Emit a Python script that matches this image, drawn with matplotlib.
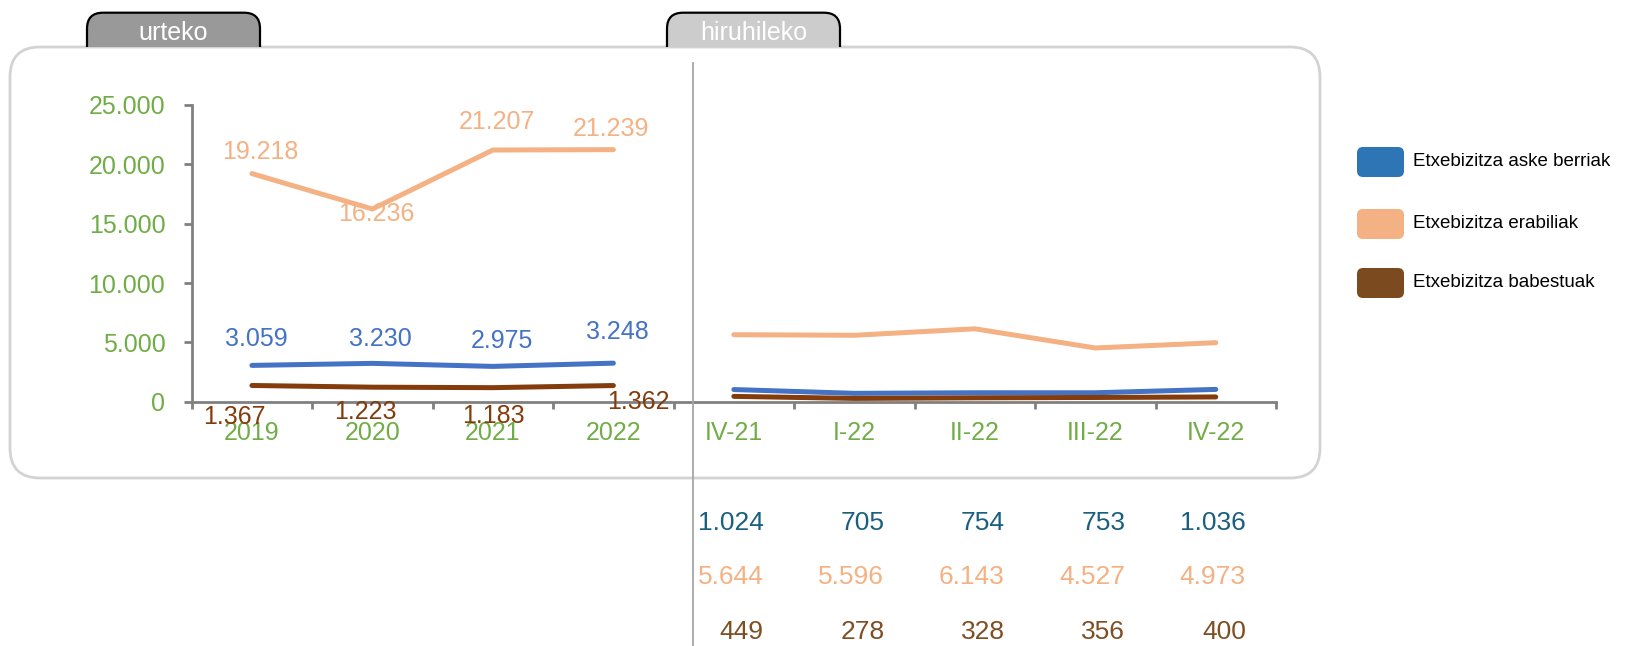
import matplotlib
matplotlib.use("Agg")
import matplotlib.pyplot as plt
from matplotlib.patches import FancyBboxPatch, Rectangle
from matplotlib.lines import Line2D
import matplotlib.transforms as mtransforms

plt.rcParams['font.family'] = ['Liberation Sans', 'DejaVu Sans']

# ---------------- data ----------------
annual_cats = ["2019", "2020", "2021", "2022"]
quarter_cats = ["IV-21", "I-22", "II-22", "III-22", "IV-22"]

series_names = ["Etxebizitza aske berriak", "Etxebizitza erabiliak", "Etxebizitza babestuak"]

annual_new = [3059, 3230, 2975, 3248]
annual_used = [19218, 16236, 21207, 21239]
annual_prot = [1367, 1223, 1183, 1362]

quarter_new = [1024, 705, 754, 753, 1036]
quarter_used = [5644, 5596, 6143, 4527, 4973]
quarter_prot = [449, 278, 328, 356, 400]

y_ticks = [0, 5000, 10000, 15000, 20000, 25000]

# ---------------- styles ----------------
W, H = 1639, 646
C_BLUE = '#4472C4'
C_ORANGE = '#F4B183'
C_BROWN = '#843C0C'
C_GREEN = '#70AD47'
C_AXIS = '#808080'
C_TBL_BLUE = '#1A5F7E'
C_TBL_BROWN = '#7F4F24'
LEG_COLORS = ['#2E75B6', '#F4B183', '#7B4A1E']

def fmt(v):
    return f"{v:,}".replace(",", ".")

fig = plt.figure(figsize=(W / 100, H / 100), dpi=100)
fig.patch.set_facecolor('white')

# pixel transform with origin at top-left
T = mtransforms.Affine2D().scale(1, -1).translate(0, H)

# axes position from pixel geometry
ax_l, ax_r, ax_top, ax_bot = 191.7, 1276.0, 105.0, 401.7
ax = fig.add_axes([ax_l / W, 1 - ax_bot / H, (ax_r - ax_l) / W, (ax_bot - ax_top) / H])
ax.set_facecolor('none')

n_cat = len(annual_cats) + len(quarter_cats)
xa = list(range(len(annual_cats)))
xq = list(range(len(annual_cats), n_cat))

lw = 3.6
for xs, ys, c in [(xa, annual_used, C_ORANGE), (xa, annual_new, C_BLUE), (xa, annual_prot, C_BROWN),
                  (xq, quarter_used, C_ORANGE), (xq, quarter_new, C_BLUE), (xq, quarter_prot, C_BROWN)]:
    ax.plot(xs, ys, color=c, lw=lw, solid_capstyle='round', solid_joinstyle='round', zorder=3)

ax.set_xlim(-0.5, n_cat - 0.5)
ax.set_ylim(0, 25000)

for s in ['top', 'right']:
    ax.spines[s].set_visible(False)
for s in ['left', 'bottom']:
    ax.spines[s].set_color(C_AXIS)
    ax.spines[s].set_linewidth(2)

ax.set_yticks(y_ticks)
ax.set_yticklabels([fmt(v) for v in y_ticks])
ax.tick_params(axis='y', colors=C_AXIS, labelcolor=C_GREEN, labelsize=18,
               length=6, width=2, direction='out', pad=13)

ax.set_xticks(range(n_cat))
ax.set_xticklabels(annual_cats + quarter_cats)
ax.tick_params(axis='x', which='major', length=0, labelcolor=C_GREEN, labelsize=18, pad=14)
ax.set_xticks([i - 0.5 for i in range(n_cat + 1)], minor=True)
ax.tick_params(axis='x', which='minor', length=5, width=2, color=C_AXIS, direction='out')

# data labels for annual section (offsets in pixels: dx right, dy up)
lab_new_off = [(4, 26), (8, 24), (9, 25), (4, 31)]
lab_used_off = [(8, 22), (4, -5), (4, 28), (-2, 21)]
lab_prot_off = [(-18, -32), (-7, -25), (1, -28), (25, -16)]
for vals, offs, c in [(annual_new, lab_new_off, C_BLUE), (annual_used, lab_used_off, C_ORANGE),
                      (annual_prot, lab_prot_off, C_BROWN)]:
    for i, (v, o) in enumerate(zip(vals, offs)):
        ax.annotate(fmt(v), xy=(i, v), xytext=o, textcoords='offset pixels',
                    ha='center', va='center', color=c, fontsize=18, zorder=4)

# table below quarterly section
bt = mtransforms.blended_transform_factory(ax.transData, T)
rows = [(quarter_new, C_TBL_BLUE, 522.7), (quarter_used, C_ORANGE, 576.5), (quarter_prot, C_TBL_BROWN, 632.0)]
for vals, c, yy in rows:
    for x, v in zip(xq, vals):
        ax.annotate(fmt(v), xy=(x, yy), xycoords=bt, xytext=(30, 0), textcoords='offset pixels',
                    ha='right', va='center', color=c, fontsize=19, annotation_clip=False)

# rounded frame
frame = FancyBboxPatch((10, 47), 1310, 431, boxstyle="round,pad=0,rounding_size=30",
                       transform=T, facecolor='none', edgecolor='#D3D3D3', lw=2)
fig.patches.append(frame)

# tabs
clip_rect = Rectangle((0, 0), W, 47, transform=T)
for (x0, x1, fc, label) in [(87, 260, '#999999', 'urteko'), (667, 840, '#CCCCCC', 'hiruhileko')]:
    tab = FancyBboxPatch((x0, 12.7), x1 - x0, 70, boxstyle="round,pad=0,rounding_size=16",
                         transform=T, facecolor=fc, edgecolor='black', lw=1.6)
    tab.set_clip_path(clip_rect)
    fig.patches.append(tab)
    fig.text((x0 + x1) / 2 / W, 1 - 33 / H, label, color='white', fontsize=18,
             ha='center', va='center')

# divider line
fig.lines.append(Line2D([693, 693], [63, 646], transform=T, color='#A6A6A6', lw=1.3))

# legend
leg_y = [162, 224, 283]
for name, c, yy in zip(series_names, LEG_COLORS, leg_y):
    p = FancyBboxPatch((1357, yy - 15), 47, 30, boxstyle="round,pad=0,rounding_size=6",
                       transform=T, facecolor=c, edgecolor='none')
    fig.patches.append(p)
    fig.text(1413 / W, 1 - yy / H, name, color='black', fontsize=13.5, ha='left', va='center')

fig.savefig("out.png", dpi=100, facecolor='white')
